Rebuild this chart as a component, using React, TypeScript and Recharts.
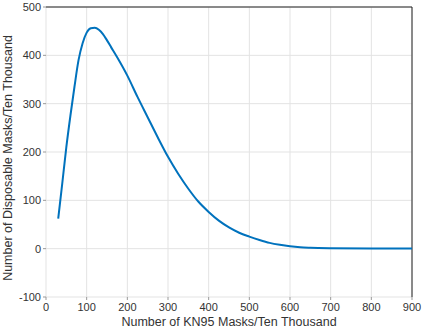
import React from "react";
import { LineChart, Line, XAxis, YAxis, CartesianGrid, ReferenceLine } from "recharts";

const kn95Masks = [30, 40, 50, 60, 70, 80, 90, 100, 110, 120, 130, 140, 150, 160, 175, 200, 225, 250, 275, 300, 325, 350, 375, 400, 425, 450, 475, 500, 525, 550, 575, 600, 625, 650, 700, 800, 900];
const disposableMasks = [62, 135, 210, 275, 335, 390, 425, 447, 456, 457, 453, 444, 431, 417, 396, 358, 314, 272, 230, 190, 155, 124, 97, 76, 58, 44, 33, 25, 18, 12, 8, 5, 3, 2, 1, 0.3, 0.1];
const xTicks = [0, 100, 200, 300, 400, 500, 600, 700, 800, 900];
const yTicks = [-100, 0, 100, 200, 300, 400, 500];
const xTitle = "Number of KN95 Masks/Ten Thousand";
const yTitle = "Number of Disposable Masks/Ten Thousand";

const data = kn95Masks.map((x, i) => ({ x, y: disposableMasks[i] }));

const font = "'Liberation Sans', Arial, sans-serif";
const tickStyle = { fontSize: 11, fill: "#333", fontFamily: font };

const YTitle = (props: any) => {
  const vb = props.viewBox || { x: 0, y: 0, width: 0, height: 0 };
  const cx = vb.x + 8;
  const cy = vb.y + vb.height / 2 + 6;
  return (
    <text x={cx} y={cy} transform={`rotate(-90 ${cx} ${cy})`} textAnchor="middle" dominantBaseline="central" fontSize={12.5} fill="#333" fontFamily={font}>
      {yTitle}
    </text>
  );
};

const XTitle = (props: any) => {
  const vb = props.viewBox || { x: 0, y: 0, width: 0, height: 0 };
  return (
    <text x={vb.x + vb.width / 2} y={326} textAnchor="middle" fontSize={12.5} fill="#333" fontFamily={font}>
      {xTitle}
    </text>
  );
};

export default function App() {
  return (
    <div style={{ position: "absolute", left: 0, top: 0, background: "#fff" }}>
      <LineChart width={422} height={330} data={data} margin={{ top: 7, right: 10, bottom: 0, left: 0 }}>
        <CartesianGrid stroke="#e3e3e3" strokeWidth={1} />
        <XAxis
          dataKey="x"
          type="number"
          domain={[0, 900]}
          ticks={xTicks}
          interval={0}
          axisLine={false}
          tickLine={{ stroke: "#999" }}
          tickSize={3}
          tickMargin={3}
          tick={tickStyle}
          height={33}
          label={<XTitle />}
        />
        <YAxis
          type="number"
          domain={[-100, 500]}
          ticks={yTicks}
          interval={0}
          axisLine={false}
          tickLine={{ stroke: "#999" }}
          tickSize={3}
          tick={tickStyle}
          width={46}
          label={<YTitle />}
        />
        <ReferenceLine y={500} stroke="#222" strokeWidth={1} />
        <ReferenceLine x={900} stroke="#222" strokeWidth={1} />
        <Line type="monotone" dataKey="y" stroke="#0072BD" strokeWidth={2} dot={false} isAnimationActive={false} />
      </LineChart>
    </div>
  );
}
